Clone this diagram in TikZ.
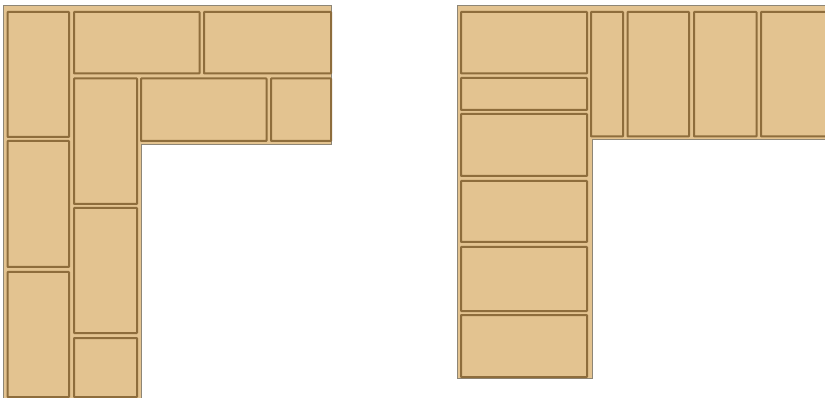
\documentclass[tikz,border=0pt]{standalone}
\definecolor{tan}{HTML}{E3C390}
\definecolor{edge}{HTML}{8E6D3C}
\definecolor{outer}{HTML}{8E8676}
\begin{document}
\begin{tikzpicture}[x=1pt,y=-1pt,
  base/.style={fill=tan,draw=outer,line width=1pt},
  tile/.style={fill=tan,draw=edge,line width=2pt,rounded corners=0.5pt}]
\useasboundingbox (0,0) rectangle (825,398);
% left L
\draw[base] (3,6) -- (331,6) -- (331,145) -- (141,145) -- (141,398) -- (3,398) -- cycle;
\draw[tile] (7.5,12) rectangle (69,137);
\draw[tile] (7.5,141) rectangle (69,267);
\draw[tile] (7.5,272) rectangle (69,397);
\draw[tile] (74,12) rectangle (199.5,73.5);
\draw[tile] (204,12) rectangle (331,73.5);
\draw[tile] (74,78.5) rectangle (137,204);
\draw[tile] (74,208) rectangle (137,333);
\draw[tile] (74,338) rectangle (137,397);
\draw[tile] (141,78.5) rectangle (266.5,141);
\draw[tile] (271,78.5) rectangle (331,141);
% right L
\draw[base] (457,6) -- (825,6) -- (825,140) -- (592,140) -- (592,378) -- (457,378) -- cycle;
\draw[tile] (461,12) rectangle (587,73.5);
\draw[tile] (461,78) rectangle (587,110);
\draw[tile] (461,114) rectangle (587,176);
\draw[tile] (461,181) rectangle (587,242);
\draw[tile] (461,247) rectangle (587,311);
\draw[tile] (461,315) rectangle (587,377);
\draw[tile] (591,12) rectangle (623,136.5);
\draw[tile] (627.5,12) rectangle (689,136.5);
\draw[tile] (694,12) rectangle (756.5,136.5);
\draw[tile] (761,12) rectangle (826,136.5);
\end{tikzpicture}
\end{document}
